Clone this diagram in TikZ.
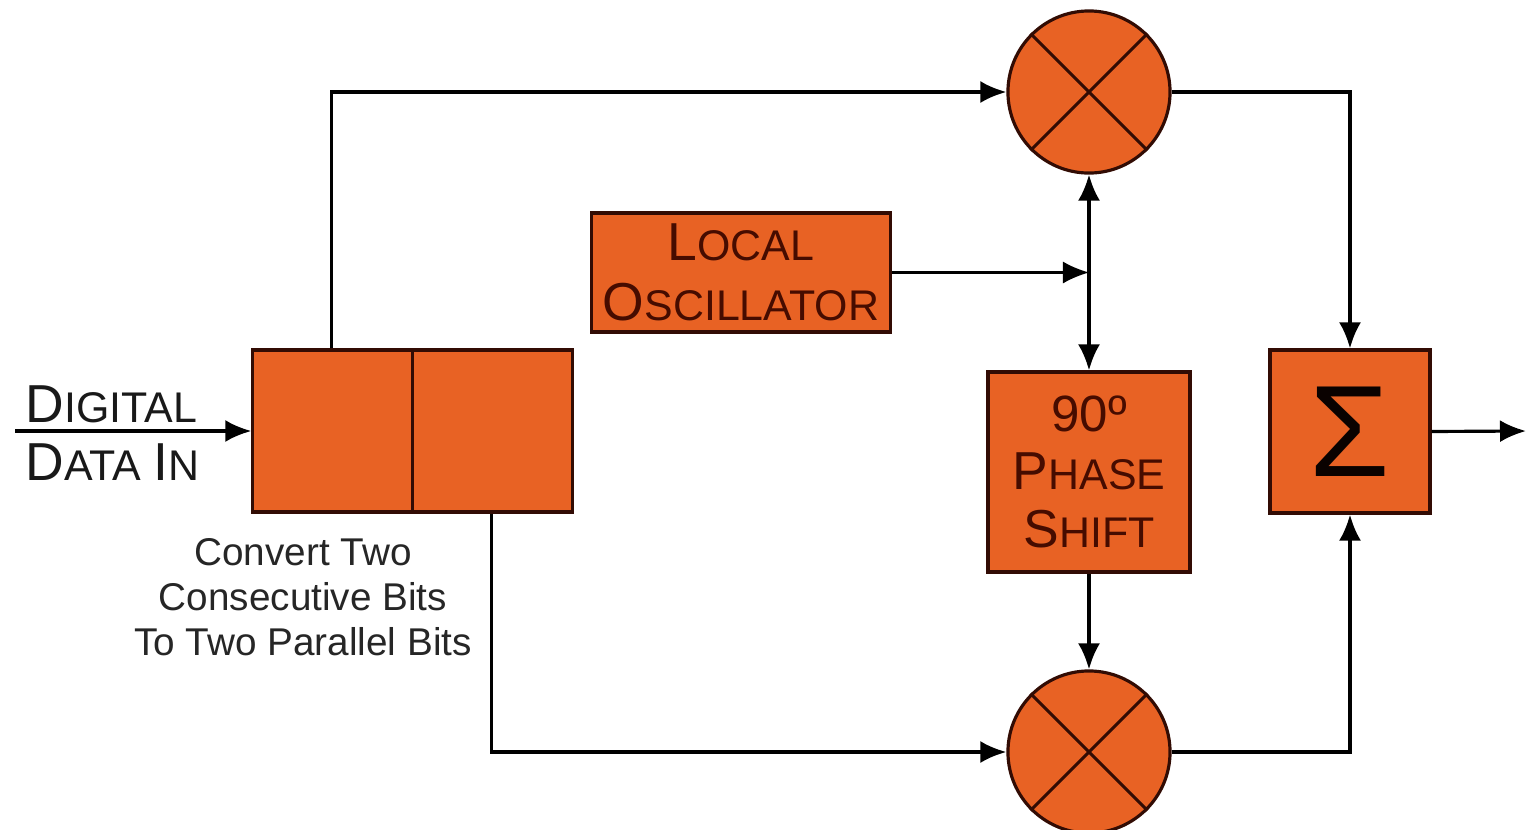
\documentclass[tikz,border=0pt]{standalone}
\usepackage{fontspec}
\setmainfont{Liberation Sans}
\usetikzlibrary{arrows.meta}
\definecolor{boxfill}{RGB}{232,98,36}
\definecolor{boxline}{RGB}{50,12,4}
\definecolor{boxtext}{RGB}{70,12,0}
\newcommand\fsc[2]{{\fontsize{15.2pt}{17pt}\selectfont #1\fontsize{12.2pt}{17pt}\selectfont #2}}

\begin{document}
\begin{tikzpicture}[x=0.01cm, y=-0.01cm, line width=0.9pt, >={Latex[length=2.6mm,width=2.2mm]},
	blk/.style={draw=boxline, fill=boxfill, text=boxtext, align=center, inner sep=0pt},
	mix/.style={blk, circle, minimum size=1.62cm},
	lbl/.style={anchor=base west, inner sep=0pt, text=black!90}]
	\useasboundingbox (0,0) rectangle (1526,830);
	% blocks
	\node[blk, minimum width=3.19cm, minimum height=1.62cm] (sp) at (412.5,431) {};
	\draw[boxline] (sp.north) -- (sp.south);
	\node[blk, minimum width=2.98cm, minimum height=1.19cm, font=\fontsize{12pt}{17pt}\selectfont] (lo) at (741,272.5) {\fsc{L}{OCAL}\\\fsc{O}{SCILLATOR}};
	\node[blk, minimum width=2.02cm, minimum height=2cm, font=\fontsize{12pt}{16.5pt}\selectfont] (ph) at (1089,472) {{\fontsize{14.5pt}{17pt}\selectfont 90º}\\\fsc{P}{HASE}\\\fsc{S}{HIFT}};
	\node[blk, minimum width=1.6cm, minimum height=1.63cm, font=\fontsize{37pt}{37pt}\selectfont, text=black!85!boxtext] (sum) at (1350,431.5) {Σ};
	\foreach \n/\y in {mixtop/92, mixbot/752} {
		\node[mix] (\n) at (1089,\y) {};
		\draw[boxline] (\n.north west) -- (\n.south east) (\n.north east) -- (\n.south west);
	}
	% texts
	\node[lbl] (dig) at (24,422) {\fsc{D}{IGITAL}};
	\node[lbl] (dat) at (24,480) {\fsc{D}{ATA }\fsc{I}{N}};
	\node[align=center, font=\fontsize{11pt}{12.8pt}\selectfont, text=black!85] (cap) at (303,597) {Convert Two\\Consecutive Bits\\To Two Parallel Bits};
	% wires
	\coordinate (in) at (15,431);
	\coordinate (out) at (1526,431);
	\draw[->] (in) -- (sp.west);
	\draw[->] ([xshift=0.8cm]sp.north west) |- (mixtop.west);
	\draw[->] ([xshift=-0.82cm]sp.south east) |- (mixbot.west);
	\draw[->, line width=0.6pt] (lo.east) -- (lo.east -| mixtop.south);
	\draw[<->] (mixtop.south) -- (ph.north);
	\draw[->] (ph.south) -- (mixbot.north);
	\draw[->] (mixtop.east) -| (sum.north);
	\draw[->] (mixbot.east) -| (sum.south);
	\draw[->] (sum.east) -- (out);
\end{tikzpicture}
\end{document}
